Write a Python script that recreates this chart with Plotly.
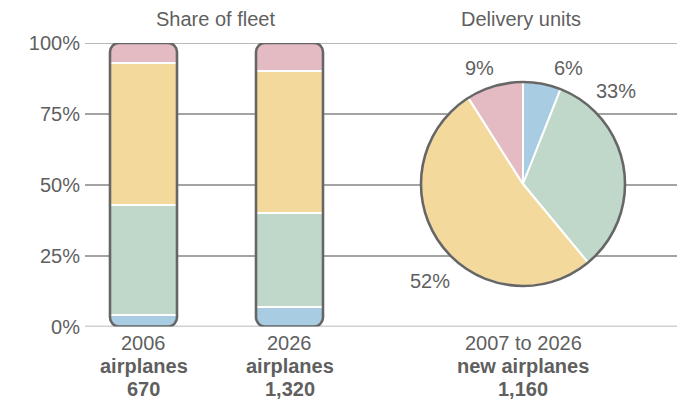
import plotly.graph_objects as go

W, H = 677, 411

# ---- data -------------------------------------------------------------
segments = ["Regional jets", "Single-aisle", "Twin-aisle", "747 and larger"]
seg_colors = ["#a8cde3", "#bfd8ca", "#f4d99c", "#e4bac3"]

fleet_years = ["2006", "2026"]
fleet_totals = [670, 1320]
fleet_share_2006 = [4, 39, 50, 7]
fleet_share_2026 = [7, 33, 50, 10]

delivery_period = "2007 to 2026"
delivery_total = 1160
delivery_share = [6, 33, 52, 9]

y_ticks = [0, 25, 50, 75, 100]
y_tick_text = [f"{v}%" for v in y_ticks]

# ---- layout helpers (pixel geometry of the canvas) --------------------
TEXT = "#5f5f5f"
GRID = "#a3a3a3"
EDGE = "#666666"
FONT = "Liberation Sans, Arial, sans-serif"

plot_left_px = 85
y0_px, y100_px = 326.5, 43
bar_centers_px = [143.5, 289.5]
slot_px = bar_centers_px[1] - bar_centers_px[0]
bar_w_px = 67
corner_px = 9

x_lo = -(bar_centers_px[0] - plot_left_px) / slot_px
x_hi = x_lo + (W - plot_left_px) / slot_px
bar_w = bar_w_px / slot_px
px_per_pct = (y0_px - y100_px) / 100.0

pie_cx, pie_cy, pie_r = 523, 184, 102


def px_x(px):
    return px / W


def px_y(py):
    return (H - py) / H


fig = go.Figure()

# stacked fleet-share bars
bar_pos = list(range(len(fleet_years)))
fleet_by_year = [fleet_share_2006, fleet_share_2026]
for i, name in enumerate(segments):
    fig.add_trace(go.Bar(
        x=bar_pos,
        y=[shares[i] for shares in fleet_by_year],
        name=name,
        width=bar_w,
        marker=dict(color=seg_colors[i], line=dict(color="white", width=2)),
        hoverinfo="skip",
        showlegend=False,
    ))

# delivery pie
fig.add_trace(go.Pie(
    values=delivery_share,
    labels=segments,
    sort=False,
    direction="clockwise",
    rotation=0,
    textinfo="none",
    hoverinfo="skip",
    showlegend=False,
    marker=dict(colors=seg_colors, line=dict(color="white", width=2)),
    domain=dict(x=[px_x(pie_cx - pie_r), px_x(pie_cx + pie_r)],
                y=[px_y(pie_cy + pie_r), px_y(pie_cy - pie_r)]),
))

# rounded outlines for the bars
rx = corner_px / slot_px
ry = corner_px / px_per_pct
ex = 2 / slot_px
ey = 2 / px_per_pct
k = 1 - 0.5523
shapes = []
for p in bar_pos:
    xl, xr = p - bar_w / 2, p + bar_w / 2
    yb, yt = 0, 100
    masks = [
        f"M {xr-rx},{yt} C {xr-rx*k},{yt} {xr},{yt-ry*k} {xr},{yt-ry} "
        f"L {xr+ex},{yt-ry} L {xr+ex},{yt+ey} L {xr-rx},{yt+ey} Z",
        f"M {xl+rx},{yt} C {xl+rx*k},{yt} {xl},{yt-ry*k} {xl},{yt-ry} "
        f"L {xl-ex},{yt-ry} L {xl-ex},{yt+ey} L {xl+rx},{yt+ey} Z",
        f"M {xr-rx},{yb} C {xr-rx*k},{yb} {xr},{yb+ry*k} {xr},{yb+ry} "
        f"L {xr+ex},{yb+ry} L {xr+ex},{yb-ey} L {xr-rx},{yb-ey} Z",
        f"M {xl+rx},{yb} C {xl+rx*k},{yb} {xl},{yb+ry*k} {xl},{yb+ry} "
        f"L {xl-ex},{yb+ry} L {xl-ex},{yb-ey} L {xl+rx},{yb-ey} Z",
    ]
    for m in masks:
        shapes.append(dict(type="path", path=m, xref="x", yref="y",
                           fillcolor="white", line=dict(width=0), layer="above"))

# restore the end gridlines over the corner masks
for v in (y_ticks[0], y_ticks[-1]):
    shapes.append(dict(type="line", xref="paper", yref="y",
                       x0=px_x(plot_left_px), x1=1, y0=v, y1=v,
                       line=dict(color=GRID, width=1.5), layer="above"))

for p in bar_pos:
    xl, xr = p - bar_w / 2, p + bar_w / 2
    yb, yt = 0, 100
    outline = (
        f"M {xl+rx},{yt} L {xr-rx},{yt} C {xr-rx*k},{yt} {xr},{yt-ry*k} {xr},{yt-ry} "
        f"L {xr},{yb+ry} C {xr},{yb+ry*k} {xr-rx*k},{yb} {xr-rx},{yb} "
        f"L {xl+rx},{yb} C {xl+rx*k},{yb} {xl},{yb+ry*k} {xl},{yb+ry} "
        f"L {xl},{yt-ry} C {xl},{yt-ry*k} {xl+rx*k},{yt} {xl+rx},{yt} Z"
    )
    shapes.append(dict(type="path", path=outline, xref="x", yref="y",
                       line=dict(color=EDGE, width=2.6), layer="above"))

# pie rim
shapes.append(dict(type="circle", xref="paper", yref="paper",
                   x0=px_x(pie_cx - pie_r), x1=px_x(pie_cx + pie_r),
                   y0=px_y(pie_cy + pie_r), y1=px_y(pie_cy - pie_r),
                   line=dict(color=EDGE, width=2.6), layer="above"))

annotations = []


def add_text(text, x, y, xref="paper", bold=False, size=20):
    annotations.append(dict(
        text=f"<b>{text}</b>" if bold else text,
        x=x, y=y, xref=xref, yref="paper",
        xanchor="center", yanchor="middle", showarrow=False,
        font=dict(family=FONT, size=size, color=TEXT),
    ))


# panel titles
add_text("Share of fleet", px_x(215), px_y(19))
add_text("Delivery units", px_x(521), px_y(19))

# pie slice labels
pie_label_px = [(568.5, 68), (615.5, 90.5), (429.5, 280.5), (479, 68)]
for v, (lx, ly) in zip(delivery_share, pie_label_px):
    add_text(f"{v}%", px_x(lx), px_y(ly))

# captions below each chart
line_y = [343, 366, 389]
for p, yr, tot in zip(bar_pos, fleet_years, fleet_totals):
    add_text(yr, p, px_y(line_y[0]), xref="x")
    add_text("airplanes", p, px_y(line_y[1]), xref="x", bold=True)
    add_text(f"{tot:,}", p, px_y(line_y[2]), xref="x", bold=True)

add_text(delivery_period, px_x(pie_cx), px_y(line_y[0]))
add_text("new airplanes", px_x(pie_cx), px_y(line_y[1]), bold=True)
add_text(f"{delivery_total:,}", px_x(pie_cx), px_y(line_y[2]), bold=True)

fig.update_layout(
    width=W, height=H, autosize=False,
    margin=dict(l=0, r=0, t=0, b=0, pad=0, autoexpand=False),
    paper_bgcolor="white", plot_bgcolor="white",
    barmode="stack",
    bargap=0,
    showlegend=False,
    font=dict(family=FONT, size=20, color=TEXT),
    xaxis=dict(domain=[px_x(plot_left_px), 1], range=[x_lo, x_hi],
               showgrid=False, zeroline=False, showticklabels=False,
               showline=False, ticks="", fixedrange=True, automargin=False),
    yaxis=dict(domain=[px_y(y0_px), px_y(y100_px)], range=[0, 100],
               tickmode="array", tickvals=y_ticks, ticktext=y_tick_text,
               showgrid=True, gridcolor=GRID, gridwidth=1.5,
               zeroline=False, showline=False, ticks="",
               tickfont=dict(family=FONT, size=20, color=TEXT),
               ticklabelstandoff=4, fixedrange=True, automargin=False),
    shapes=shapes,
    annotations=annotations,
)

fig.write_html("out.html")
